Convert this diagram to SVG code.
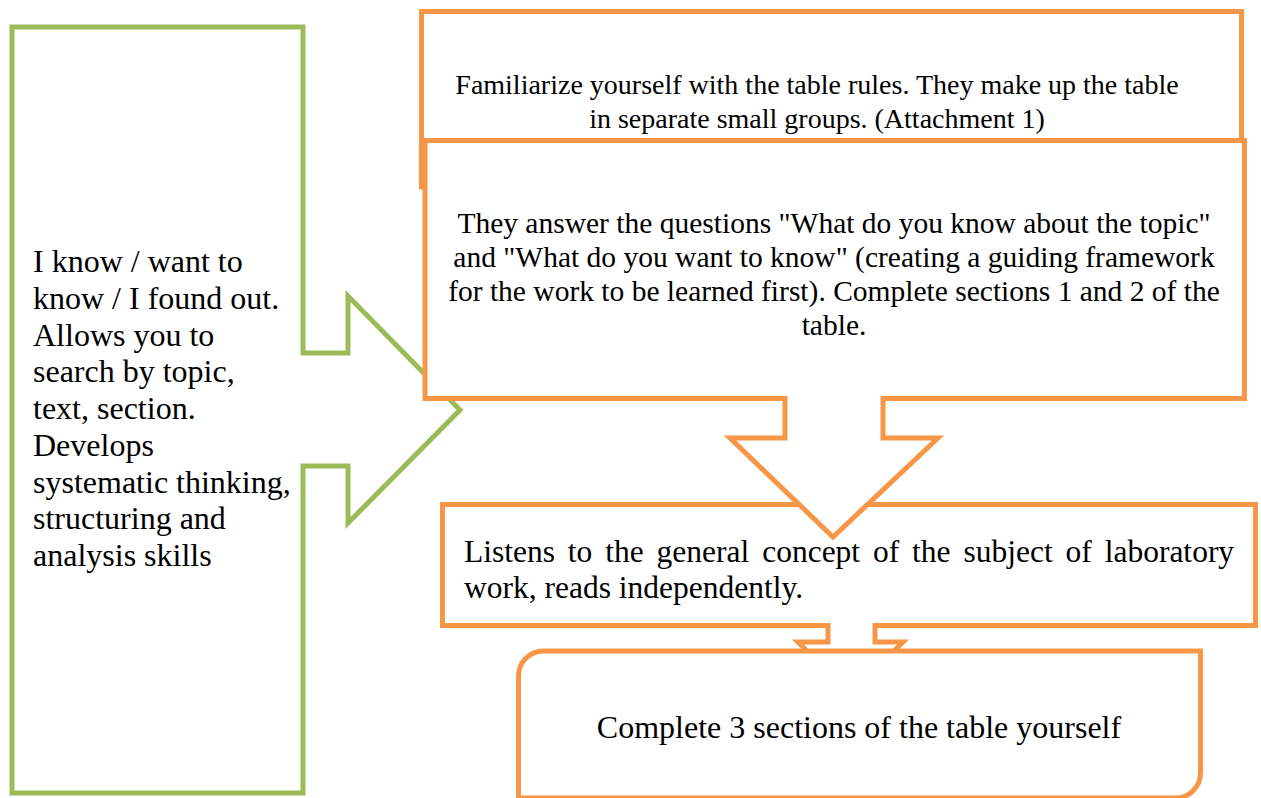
<svg xmlns="http://www.w3.org/2000/svg" width="1261" height="798" viewBox="0 0 1261 798">
<style>
.g{fill:#fff;stroke:#9BBB59;stroke-width:5;stroke-linejoin:miter}
.o{fill:#fff;stroke:#F79646;stroke-width:5;stroke-linejoin:miter}
.of{fill:#fff;stroke:none}
.os{fill:none;stroke:#F79646;stroke-width:5;stroke-linejoin:miter}
text{font-family:"Liberation Serif","Times New Roman",serif;font-size:28px;fill:#000}
.t32{font-size:32px}
.t295{font-size:29.5px}
.t315{font-size:31.5px}
</style>
<rect width="1261" height="798" fill="#fff"/>
<g id="node-green">
<path class="g" d="M12,27 H303 V353 H348 V296 L460,410 L348,523 V466 H303 V793 H12 Z"/>
<text class="t32"><tspan x="33" y="272">I know / want to</tspan><tspan x="33" y="308.75">know / I found out.</tspan><tspan x="33" y="345.5">Allows you to</tspan><tspan x="33" y="382.25">search by topic,</tspan><tspan x="33" y="419">text, section.</tspan><tspan x="33" y="455.75">Develops</tspan><tspan x="33" y="492.5">systematic thinking,</tspan><tspan x="33" y="529.25">structuring and</tspan><tspan x="33" y="566">analysis skills</tspan></text>
</g>
<g id="node-1">
<rect class="o" x="421.5" y="11.5" width="820" height="175.5"/>
<text text-anchor="middle"><tspan x="817" y="94">Familiarize yourself with the table rules. They make up the table</tspan><tspan x="817" y="128">in separate small groups. (Attachment 1)</tspan></text>
</g>
<g id="node-2">
<rect class="o" x="425" y="140.5" width="819.5" height="258"/>
<text class="t295" text-anchor="middle"><tspan x="834" y="233">They answer the questions "What do you know about the topic"</tspan><tspan x="834" y="267">and "What do you want to know" (creating a guiding framework</tspan><tspan x="834" y="301">for the work to be learned first). Complete sections 1 and 2 of the</tspan><tspan x="834" y="335">table.</tspan></text>
</g>
<g id="node-3">
<rect class="o" x="442.5" y="504.5" width="813" height="121"/>
<text class="t315"><tspan x="464" y="562" word-spacing="5">Listens to the general concept of the subject of laboratory</tspan><tspan x="464" y="598">work, reads independently.</tspan></text>
</g>
<g id="connectors">
<path class="of" d="M785,396 V438 H730 L833,537 L938,438 H883 V396 Z"/>
<path class="os" d="M785,396 V438 H730 L833,537 L938,438 H883 V396"/>
<path class="of" d="M828,623 V642 H798 L850.5,694.5 L903,642 H875 V623 Z"/>
<path class="os" d="M828,623 V642 H798 L850.5,694.5 L903,642 H875 V623"/>
</g>
<g id="node-4">
<path class="o" d="M543.5,651 H1200.5 V773 A25,25 0 0 1 1175.5,798 H518.5 V676 A25,25 0 0 1 543.5,651 Z"/>
<text class="t32" x="859" y="738" text-anchor="middle">Complete 3 sections of the table yourself</text>
</g>
</svg>
